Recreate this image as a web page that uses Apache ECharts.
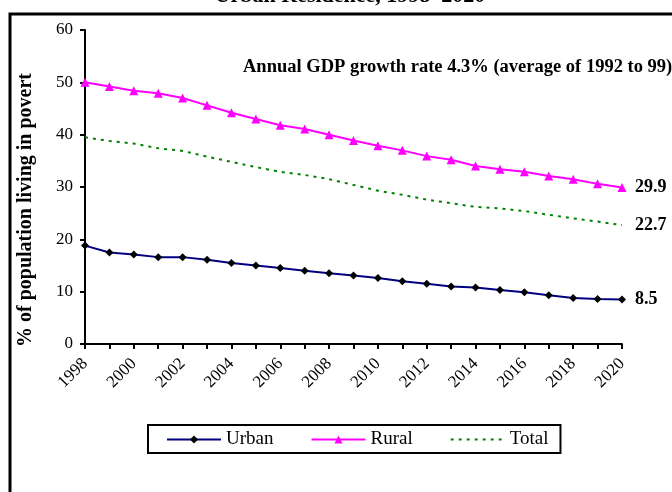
<!DOCTYPE html>
<html>
<head>
<meta charset="utf-8">
<script src="https://cdn.jsdelivr.net/npm/echarts@6/dist/echarts.min.js"></script>
<style>
  html, body { margin: 0; padding: 0; background: #fff; }
  #chart { width: 672px; height: 492px; }
</style>
</head>
<body>
<div id="chart"></div>
<script>
// Poverty projections by residence, 1998-2020
const years = ['1998','1999','2000','2001','2002','2003','2004','2005','2006','2007','2008','2009',
               '2010','2011','2012','2013','2014','2015','2016','2017','2018','2019','2020'];
const urban = [18.8, 17.5, 17.1, 16.6, 16.6, 16.1, 15.5, 15.0, 14.5, 14.0, 13.5, 13.1,
               12.6, 12.0, 11.5, 11.0, 10.8, 10.3, 9.9, 9.3, 8.8, 8.6, 8.5];
const rural = [50.0, 49.2, 48.4, 47.9, 47.0, 45.6, 44.2, 43.0, 41.8, 41.1, 40.0, 38.9,
               37.9, 37.0, 35.9, 35.2, 34.0, 33.4, 32.9, 32.1, 31.5, 30.6, 29.9];
const total = [39.5, 38.8, 38.3, 37.4, 36.9, 35.8, 34.8, 33.8, 32.9, 32.3, 31.5, 30.4,
               29.3, 28.5, 27.6, 26.9, 26.2, 25.9, 25.4, 24.7, 24.0, 23.4, 22.7];
const yTicks = { min: 0, max: 60, interval: 10 };

const serif = 'Liberation Serif';
const chart = echarts.init(document.getElementById('chart'), null, { renderer: 'canvas' });

const endLabel = {
  show: true,
  distance: 13,
  formatter: p => p.value,
  fontFamily: serif,
  fontWeight: 'bold',
  fontSize: 18,
  color: '#000'
};

chart.setOption({
  animation: false,
  backgroundColor: '#fff',
  grid: { left: 85, right: 50, top: 30, bottom: 148, containLabel: false },
  xAxis: {
    type: 'category',
    data: years,
    boundaryGap: false,
    axisLine: { lineStyle: { color: '#000', width: 2 } },
    axisTick: { show: true, interval: 0, length: 5, lineStyle: { color: '#000', width: 2 } },
    axisLabel: {
      interval: 1,
      rotate: 45,
      margin: 17,
      fontFamily: serif,
      fontSize: 17,
      color: '#000'
    },
    splitLine: { show: false }
  },
  yAxis: {
    type: 'value',
    min: yTicks.min,
    max: yTicks.max,
    interval: yTicks.interval,
    axisLine: { show: true, lineStyle: { color: '#000', width: 2 } },
    axisTick: { show: true, length: 5, lineStyle: { color: '#000', width: 2 } },
    axisLabel: { fontFamily: serif, fontSize: 17, color: '#000', margin: 12 },
    splitLine: { show: false }
  },
  legend: {
    left: 148,
    top: 425,
    data: ['Urban', 'Rural', { name: 'Total', itemStyle: { opacity: 0 } }],
    itemWidth: 54,
    itemHeight: 10,
    itemGap: 37,
    padding: [5, 12, 4, 18],
    borderColor: '#000',
    borderWidth: 2,
    textStyle: { fontFamily: serif, fontSize: 19, color: '#000' }
  },
  graphic: [
    {
      type: 'rect',
      shape: { x: 10, y: 14, width: 720, height: 520 },
      style: { fill: 'none', stroke: '#000', lineWidth: 3 },
      silent: true
    },
    {
      type: 'text',
      x: 350, y: 7,
      style: {
        text: 'Urban Residence, 1998\u20132020',
        fontFamily: serif, fontWeight: 'bold', fontSize: 22,
        fill: '#000', textAlign: 'center', textVerticalAlign: 'bottom'
      }
    },
    {
      type: 'text',
      x: 243, y: 67,
      style: {
        text: 'Annual GDP growth rate 4.3% (average of 1992 to 99)',
        fontFamily: serif, fontWeight: 'bold', fontSize: 18.5,
        fill: '#000', textAlign: 'left', textVerticalAlign: 'middle'
      }
    },
    {
      type: 'text',
      x: 26, y: 210,
      rotation: Math.PI / 2,
      style: {
        text: '% of population living in povert',
        fontFamily: serif, fontWeight: 'bold', fontSize: 20,
        fill: '#000', textAlign: 'center', textVerticalAlign: 'middle'
      }
    }
  ],
  series: [
    {
      name: 'Urban',
      type: 'line',
      data: urban,
      symbol: 'diamond',
      symbolSize: 8,
      itemStyle: { color: '#000' },
      lineStyle: { color: '#000080', width: 2 },
      endLabel: endLabel
    },
    {
      name: 'Rural',
      type: 'line',
      data: rural,
      symbol: 'triangle',
      symbolSize: 9,
      itemStyle: { color: '#ff00ff' },
      lineStyle: { color: '#ff00ff', width: 2 },
      endLabel: endLabel
    },
    {
      name: 'Total',
      type: 'line',
      data: total,
      symbol: 'none',
      itemStyle: { color: '#008000' },
      lineStyle: { color: '#008000', width: 2, type: [3, 5] },
      endLabel: endLabel
    }
  ]
});
</script>
</body>
</html>
